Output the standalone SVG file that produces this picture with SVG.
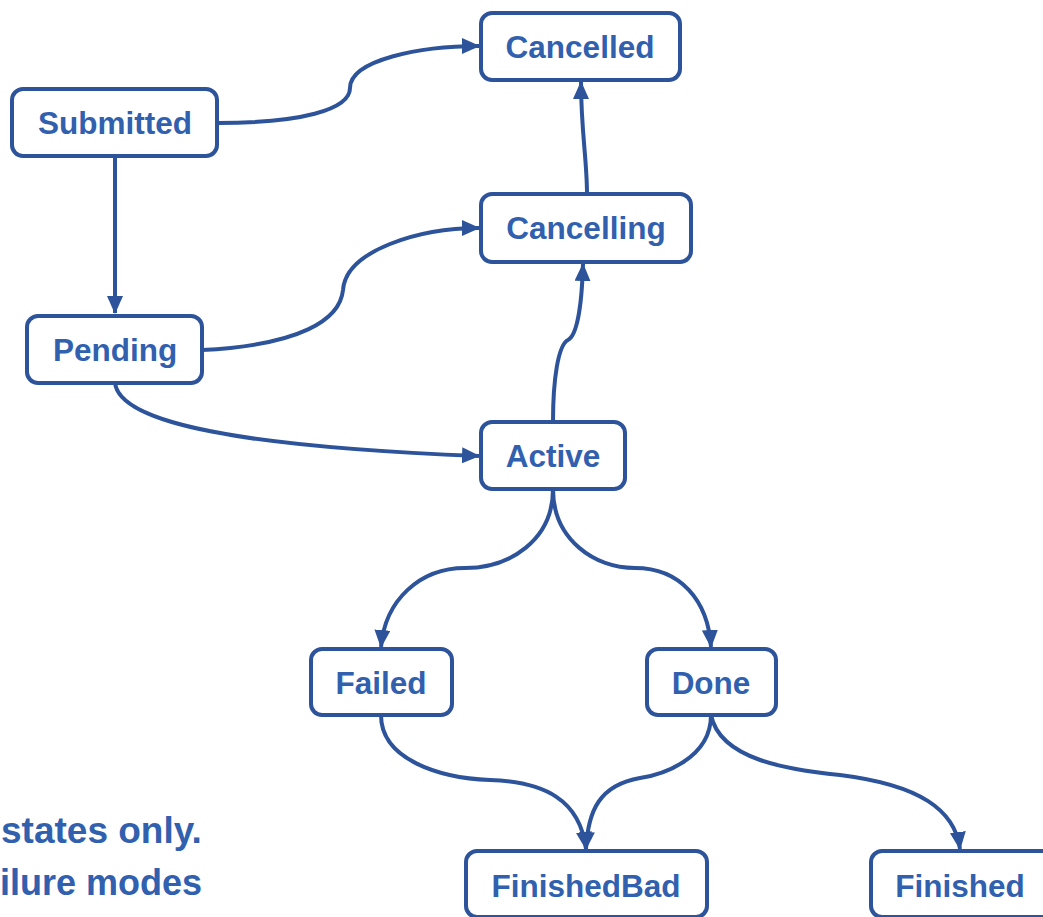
<svg xmlns="http://www.w3.org/2000/svg" width="1043" height="917" viewBox="0 0 1043 917">
<style>
.box{fill:#fff;stroke:#2D539A;stroke-width:4}
.lbl{font-family:"Liberation Sans",Arial,sans-serif;font-weight:bold;font-size:31.5px;fill:#3160AE;text-anchor:middle}
.note{font-family:"Liberation Sans",Arial,sans-serif;font-weight:bold;font-size:37px;fill:#3160AE}
.edge{fill:none;stroke:#2D539A;stroke-width:4}
</style>
<defs>
<marker id="ah" markerUnits="userSpaceOnUse" markerWidth="18" markerHeight="16" refX="17" refY="8" orient="auto">
<path d="M0,0 L18,8 L0,16 Z" fill="#2D539A"/>
</marker>
</defs>
<rect width="1043" height="917" fill="#fff"/>
<g id="connectors">
<path class="edge" marker-end="url(#ah)" d="M217,123 C300,123 350,110 350,88 C350,60 420,46 479,46"/>
<path class="edge" marker-end="url(#ah)" d="M115,156 L115,313"/>
<path class="edge" marker-end="url(#ah)" d="M202,350 C300,345 340,320 343,290 C346,250 420,228 479,228"/>
<path class="edge" marker-end="url(#ah)" d="M115,383 C120,425 250,447 479,456"/>
<path class="edge" marker-end="url(#ah)" d="M553,422 C553,380 558,345 568,340 C578,335 582,300 583,264"/>
<path class="edge" marker-end="url(#ah)" d="M587,194 C587,160 581,130 581,82"/>
<path class="edge" marker-end="url(#ah)" d="M553,489 C553,540 510,568 465,568 C420,568 385,600 381,647"/>
<path class="edge" marker-end="url(#ah)" d="M553,489 C553,540 595,568 635,568 C680,568 708,600 711,647"/>
<path class="edge" marker-end="url(#ah)" d="M381,715 C381,760 440,778 490,780 C545,782 580,800 586,849"/>
<path class="edge" marker-end="url(#ah)" d="M711,715 C711,760 660,775 640,778 C600,785 588,810 586,849"/>
<path class="edge" marker-end="url(#ah)" d="M711,715 C720,760 790,770 840,775 C920,785 955,810 960,849"/>
</g>
<g id="Cancelled"><rect class="box" x="481" y="13" width="199" height="67" rx="11"/><text class="lbl" x="580" y="58">Cancelled</text></g>
<g id="Submitted"><rect class="box" x="12" y="89" width="205" height="67" rx="11"/><text class="lbl" x="115" y="134">Submitted</text></g>
<g id="Cancelling"><rect class="box" x="481" y="194" width="210" height="68" rx="11"/><text class="lbl" x="586" y="239">Cancelling</text></g>
<g id="Pending"><rect class="box" x="27" y="316" width="175" height="67" rx="11"/><text class="lbl" x="115" y="361">Pending</text></g>
<g id="Active"><rect class="box" x="481" y="422" width="144" height="67" rx="11"/><text class="lbl" x="553" y="467">Active</text></g>
<g id="Failed"><rect class="box" x="311" y="649" width="141" height="66" rx="11"/><text class="lbl" x="381" y="694">Failed</text></g>
<g id="Done"><rect class="box" x="647" y="649" width="129" height="66" rx="11"/><text class="lbl" x="711" y="694">Done</text></g>
<g id="FinishedBad"><rect class="box" x="466" y="851" width="241" height="66" rx="11"/><text class="lbl" x="586" y="897">FinishedBad</text></g>
<g id="Finished"><rect class="box" x="871" y="851" width="190" height="66" rx="11"/><text class="lbl" x="960" y="897">Finished</text></g>
<g id="note">
<text class="note" x="1" y="843">states only.</text>
<text class="note" x="0" y="895" style="font-size:36px">ilure modes</text>
</g>
</svg>
